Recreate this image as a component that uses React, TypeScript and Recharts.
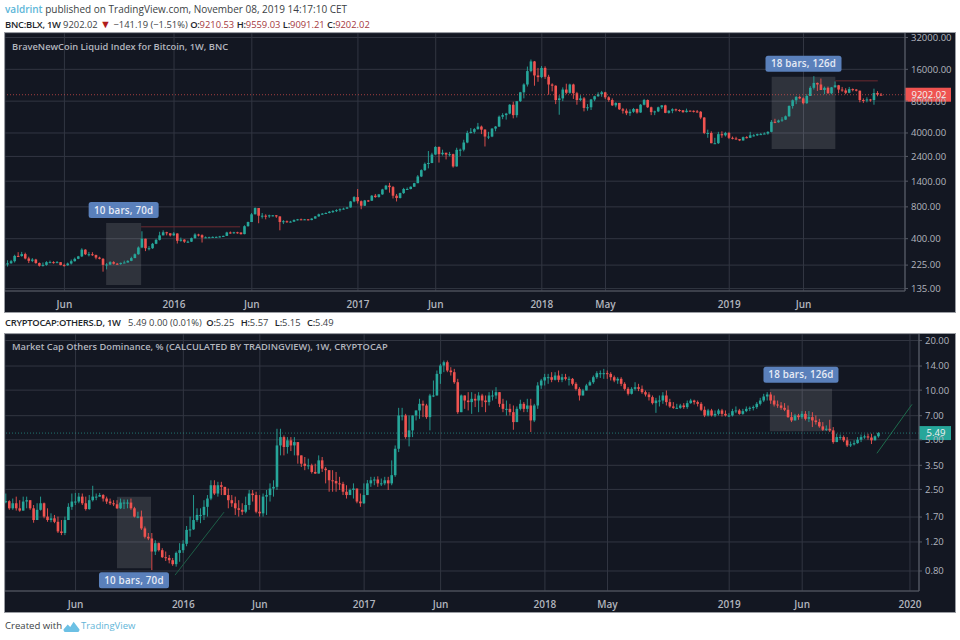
import React from "react";
import { ComposedChart, Bar, XAxis, YAxis, CartesianGrid, ReferenceLine, ReferenceArea } from "recharts";

const firstWeekBtc = -48;
const btcCloses = [
228,234,245,275,274,286,260,247,254,235,
222,226,240,240,237,240,225,224,233,245,
258,272,315,285,285,280,265,258,226,228,
240,232,231,236,238,247,262,285,330,400,
325,325,358,390,430,460,450,430,448,382,
392,375,375,405,438,432,410,412,413,416,
416,420,425,458,455,460,458,442,525,575,
680,780,660,660,655,665,665,650,575,585,
580,580,600,610,605,610,600,620,650,680,
690,700,720,730,745,760,770,790,900,990,
905,820,920,915,1020,990,1050,1170,1270,1230,
1020,970,1080,1180,1180,1240,1340,1550,1780,2040,
2080,2500,2950,2520,2600,2500,2520,1930,2770,2780,
3250,4000,4100,4350,4600,4300,3700,3700,4400,4600,
5700,5900,6100,7400,5900,8000,9700,11500,15400,19000,
14000,13500,16500,13600,11500,11200,8200,8500,10300,9600,
11500,9500,8200,8500,6900,7000,8300,8900,9300,9700,
8700,8200,7300,7700,6700,6500,6150,6350,6750,6250,
7400,8200,7000,6300,6400,7000,7300,6200,6500,6700,
6600,6550,6300,6500,6480,6400,6350,5600,4000,4000,
3200,3200,3900,3800,4000,3600,3550,3500,3400,3650,
3600,3800,3800,3900,3900,3950,4100,5100,5050,5250,
5350,5750,7200,8150,8750,8500,7650,8950,10700,11900,
11500,10200,10700,9500,10800,11300,10300,10100,9600,10400,
10300,10050,8200,8150,8300,8200,9550,9210,9202.02];
const btcHighs = [
240,250,252,282,298,300,295,270,262,258,
238,238,245,248,245,246,240,232,238,254,
265,275,325,318,300,298,283,270,262,235,
245,245,236,238,248,250,270,290,338,470,
400,340,365,400,465,480,465,450,462,450,
410,395,385,410,450,445,440,420,418,420,
420,425,428,465,468,465,465,458,535,580,
700,790,780,700,680,675,670,670,640,600,
595,590,610,615,620,615,612,625,655,690,
700,710,730,745,760,775,785,800,910,1010,
1180,920,930,930,1035,1060,1060,1185,1290,1350,
1260,1060,1090,1210,1220,1250,1350,1600,1810,2100,
2700,2600,3000,2980,2780,2600,2650,2550,2900,2850,
3450,4200,4450,4450,4980,4700,4350,4100,4450,4650,
5850,6150,6200,7500,7900,8000,9800,11800,17000,19800,
19200,16500,17200,17100,14200,11800,11300,9100,10800,11700,
11700,11700,9800,9100,8750,7500,8400,9000,9700,10000,
9800,8900,8500,7800,7700,6900,6800,6700,6900,6800,
7500,8400,8300,7100,6500,7100,7350,7400,6550,6850,
6800,6700,6600,6800,6550,6550,6600,6450,5650,4300,
4150,3600,4100,4150,4100,4100,3700,3680,3500,3700,
3730,4100,3900,3950,4000,4050,4150,5300,5450,5350,
5650,5850,7300,8300,8950,9000,8700,9300,11100,13800,
12000,13100,11000,11000,10900,12300,11400,10900,10600,10900,
10550,10400,10050,8500,8700,8400,10500,9950,9559.03];
const btcLows = [
218,218,232,238,268,270,255,235,240,232,
218,218,222,235,232,235,224,218,222,228,
243,256,268,280,272,275,255,255,195,205,
225,228,226,226,235,240,245,262,282,325,
305,310,320,355,385,430,430,420,425,360,
375,365,365,372,400,420,368,405,405,410,
412,410,415,425,445,445,445,437,440,520,
575,680,560,620,610,630,650,630,480,550,
565,570,575,595,600,600,595,598,618,645,
675,685,695,700,715,720,755,765,785,885,
860,760,815,890,910,975,980,1040,1160,1090,
960,900,960,1060,1160,1170,1240,1340,1530,1750,
1850,2070,2490,2100,2450,2250,2400,1880,1920,2420,
2680,3200,3950,3950,4300,3900,2980,3500,3650,4150,
4550,5400,5350,6000,5500,5600,7850,8500,11000,15000,
11200,12200,13200,13000,9200,9900,7500,5950,8000,9300,
9400,8400,7400,8000,6400,6500,6600,8000,8800,8800,
8400,7900,7200,7000,6600,6100,5900,5800,6200,6100,
6200,7300,6900,5900,5900,6300,6750,6150,6100,6150,
6400,6350,6200,6250,6400,6250,6200,5400,3900,3600,
3200,3150,3150,3600,3700,3500,3480,3450,3350,3380,
3550,3650,3700,3750,3830,3900,3850,4050,4950,5000,
5100,5300,5700,6800,7500,8350,7450,7550,8950,10300,
10000,10400,9300,9400,9300,10800,9500,9800,9300,9500,
9900,9900,7800,7700,7800,7900,7400,8900,9091.21];

const firstWeekOthers = -51;
const othersCloses = [
2.12,1.92,2.06,1.92,1.86,2.11,2.15,1.92,1.63,1.88,
2.06,1.71,1.63,1.67,1.59,1.39,1.36,1.63,1.96,2.11,
2.11,2.26,2.06,1.90,2.15,2.26,2.26,2.31,2.20,2.11,
2.06,2.03,1.92,2.08,2.08,2.08,1.92,1.71,1.71,1.45,
1.29,1.26,1.05,1.18,1.07,0.97,0.96,0.93,0.88,1.03,
1.07,1.17,1.42,1.43,1.63,1.75,1.75,1.96,2.20,2.65,
2.36,2.65,2.59,2.31,2.15,2.06,1.92,1.88,1.83,2.01,
2.36,2.31,1.83,1.79,2.26,2.31,2.53,2.59,4.62,5.19,
4.52,4.96,4.62,4.84,4.02,3.58,3.47,3.50,3.19,3.12,
3.75,3.34,3.27,2.84,2.81,2.72,2.70,2.42,2.31,2.48,
2.53,2.11,2.06,2.31,2.72,2.84,2.87,2.72,2.72,2.84,
2.72,3.05,4.41,7.02,7.02,5.19,5.70,7.02,7.53,8.26,
8.07,6.86,9.28,9.28,12.55,14.10,14.77,13.15,12.85,11.17,
7.35,9.28,8.65,8.46,8.86,8.65,9.28,8.65,8.46,9.28,
9.28,9.72,8.26,7.70,7.70,7.35,6.40,7.70,8.26,7.70,
8.07,6.55,8.07,10.67,11.44,11.98,11.98,11.55,12.26,11.55,
11.98,11.71,11.71,10.92,10.18,9.28,9.95,10.67,11.17,11.98,
12.67,12.67,12.67,12.55,11.98,11.44,11.71,10.92,10.18,9.50,
10.18,10.42,10.18,9.72,9.41,9.07,8.34,8.65,8.65,9.28,
8.46,7.96,7.81,7.81,8.07,7.89,8.34,8.65,8.46,8.26,
7.60,7.02,7.53,7.02,7.18,7.53,7.18,7.02,7.02,7.46,
7.53,7.18,7.46,7.70,7.81,7.89,8.26,8.65,9.15,9.41,
8.65,8.18,8.07,7.81,7.60,6.86,6.55,7.02,6.86,7.18,
6.70,6.86,6.55,6.40,6.03,5.75,5.83,5.70,4.84,5.19,
5.19,4.96,4.62,4.69,4.77,5.00,5.19,5.24,5.16,4.96,
5.25,5.49];
const othersHighs = [
2.36,2.15,2.20,2.26,2.15,2.26,2.26,2.13,2.01,2.06,
2.26,2.08,1.92,1.79,1.75,1.71,1.63,1.71,2.06,2.36,
2.38,2.38,2.36,2.26,2.31,2.63,2.36,2.38,2.34,2.26,
2.20,2.15,2.15,2.20,2.17,2.17,2.20,1.96,1.83,1.86,
1.49,1.36,1.36,1.23,1.19,1.10,1.05,1.00,0.96,1.05,
1.18,1.23,1.50,1.71,2.31,1.92,1.92,2.15,2.31,2.84,
2.84,2.78,2.78,2.59,2.53,2.31,2.26,2.15,2.06,2.26,
2.48,2.48,2.42,2.31,2.36,2.48,2.72,2.84,5.83,5.83,
5.31,5.19,5.19,5.19,4.84,4.02,3.93,3.84,3.58,3.58,
4.02,3.93,3.42,3.27,3.27,3.19,2.98,2.78,2.65,2.53,
2.72,2.53,2.36,2.72,2.85,2.98,2.98,3.00,2.91,2.98,
2.98,3.75,4.62,7.81,7.81,7.18,7.02,7.02,7.53,8.86,
8.65,8.26,9.50,11.44,13.15,14.43,15.12,15.12,13.78,13.46,
11.71,9.41,9.28,9.72,9.72,9.50,9.72,9.50,9.28,9.72,
9.95,10.42,9.72,8.86,8.65,8.26,8.07,7.96,8.75,8.46,
8.86,8.86,8.26,11.17,11.71,12.55,12.55,12.85,12.85,13.15,
12.55,12.55,12.10,11.85,11.17,10.42,10.18,10.92,11.44,12.26,
13.02,13.15,13.46,13.15,12.85,12.26,11.98,11.98,11.17,10.42,
10.42,11.17,10.92,10.67,9.95,9.72,9.28,8.98,9.28,9.72,
9.95,8.86,8.46,8.26,8.26,8.34,8.65,8.86,8.75,8.65,
8.46,7.96,7.70,7.70,7.53,7.70,7.70,7.53,7.25,7.70,
7.96,7.70,7.70,7.96,7.96,8.07,8.46,8.98,9.50,9.72,
9.72,9.28,8.65,8.46,8.34,8.07,7.35,7.18,7.18,7.46,
7.46,7.46,7.35,7.02,6.70,6.40,6.11,6.61,5.97,5.44,
5.38,5.31,5.19,4.88,4.96,5.19,5.38,5.38,5.44,5.44,
5.31,5.57];
const othersLows = [
2.06,1.88,1.88,1.86,1.83,1.88,1.92,1.88,1.57,1.71,
1.86,1.67,1.59,1.58,1.56,1.36,1.32,1.32,1.63,1.88,
2.01,2.06,2.01,1.86,1.88,2.11,2.15,2.26,2.11,2.04,
2.01,1.98,1.90,1.90,1.90,1.92,1.88,1.69,1.67,1.42,
1.26,1.23,0.81,1.00,1.05,0.96,0.92,0.89,0.86,0.85,
0.91,1.03,1.13,1.29,1.42,1.59,1.56,1.63,1.71,2.15,
2.31,2.26,2.31,2.31,1.92,1.96,1.75,1.71,1.75,1.79,
1.88,2.11,1.79,1.71,1.71,1.75,2.11,2.26,2.48,4.02,
4.02,4.12,4.27,4.02,3.58,3.42,3.27,3.31,3.12,3.10,
3.12,3.19,2.72,2.42,2.42,2.42,2.48,2.31,2.20,2.31,
2.20,2.06,1.96,2.04,2.42,2.59,2.65,2.59,2.62,2.65,
2.48,2.65,2.98,4.21,6.55,5.07,4.56,5.19,6.55,6.70,
6.86,6.70,5.70,9.07,9.28,10.92,12.85,12.85,12.26,10.92,
7.18,7.35,7.70,7.53,7.18,7.89,7.35,7.89,7.35,8.07,
8.65,8.86,7.89,7.35,7.02,7.02,5.75,6.40,7.53,7.35,
7.35,5.57,6.40,7.70,10.18,10.67,10.92,11.17,11.44,11.17,
11.17,11.44,10.67,10.67,9.95,8.65,9.28,9.95,10.67,10.92,
11.71,11.85,11.71,11.71,11.44,11.17,10.92,10.57,9.95,9.28,
9.41,9.95,9.86,9.50,9.15,8.65,8.18,7.28,7.96,8.26,
8.07,7.81,7.70,7.70,7.70,7.70,7.70,8.26,8.18,7.96,
7.46,6.86,6.92,6.92,6.86,7.02,6.92,6.92,6.86,6.92,
7.25,7.09,7.09,7.35,7.46,7.53,7.70,8.07,8.46,8.65,
8.26,7.96,7.81,7.60,7.46,6.79,6.40,6.55,6.61,6.70,
6.55,6.40,5.97,6.18,5.91,5.65,5.65,5.57,4.73,4.84,
5.00,4.84,4.52,4.52,4.62,4.73,4.84,5.07,5.00,4.71,
4.96,5.15];

const btcAxisTicks = [135, 225, 400, 800, 1400, 2400, 4000, 8000, 16000, 32000];
const othersAxisTicks = [0.8, 1.2, 1.7, 2.5, 3.5, 5, 7, 10, 14, 20];
const btcWeekTicks = [-31, 0, 22, 52, 74, 104, 122, 157, 178];
const btcWeekLabels = ["Jun", "2016", "Jun", "2017", "Jun", "2018", "May", "2019", "Jun"];
const othersWeekTicks = [-31, 0, 22, 52, 74, 104, 122, 157, 178, 209];
const othersWeekLabels = ["Jun", "2016", "Jun", "2017", "Jun", "2018", "May", "2019", "Jun", "2020"];
const btcLast = 9202.02;
const othersLast = 5.49;

const UP = "#26a69a";
const DOWN = "#ef5350";
const PANEL = "#131722";
const GRID = "#323642";
const AXIS = "#565a65";
const TEXT = "#b2b5be";
const FONT = "'Open Sans', sans-serif";

function buildCandles(first: number, closes: number[], highs: number[], lows: number[]) {
  return closes.map((c, i) => {
    const o = i > 0 ? closes[i - 1] : c;
    const h = Math.max(highs[i], o, c);
    const l = Math.min(lows[i], o, c);
    return { week: first + i, o, c, h, l, range: [l, h] };
  });
}

function Candle(props: any) {
  const { x, y, width, height, payload } = props;
  if (y == null || !payload) return null;
  const { o, c, h, l } = payload;
  const span = Math.log(h) - Math.log(l) || 1;
  const yOf = (v: number) => y + ((Math.log(h) - Math.log(v)) / span) * height;
  const cx = x + width / 2;
  const top = yOf(Math.max(o, c));
  const bot = yOf(Math.min(o, c));
  const col = c >= o ? UP : DOWN;
  return (
    <g>
      <line x1={cx} x2={cx} y1={y} y2={y + height} stroke={col} strokeWidth={0.9} />
      <rect x={cx - 1.3} y={top} width={2.6} height={Math.max(bot - top, 1)} fill={col} />
    </g>
  );
}

function pill(text: string, w: number, place: "top" | "bottom", gap: number) {
  return (props: any) => {
    const vb = props.viewBox;
    if (!vb) return null;
    const h = 16;
    const cx = vb.x + vb.width / 2;
    const py = place === "top" ? vb.y - gap - h : vb.y + vb.height + gap;
    return (
      <g>
        <rect x={cx - w / 2} y={py} width={w} height={h} rx={2.5} fill="#5a80bb" />
        <text x={cx} y={py + 11.5} textAnchor="middle" fontSize={9.8} fontFamily={FONT} fontWeight={600} fill="#e6ebf5" letterSpacing={0.2}>{text}</text>
      </g>
    );
  };
}

function priceTag(text: string, color: string, w: number, yShift: number, h: number) {
  return (props: any) => {
    const vb = props.viewBox;
    if (!vb) return null;
    const right = vb.x + vb.width;
    return (
      <g>
        <rect x={right} y={vb.y + yShift} width={w} height={h} fill={color} />
        <text x={right + w / 2 + 1} y={vb.y + yShift + h / 2 + 3.4} textAnchor="middle" fontSize={9.5} fontFamily={FONT} fill="#f3f3f3">{text}</text>
      </g>
    );
  };
}

function Panel(props: any) {
  const { data, top, height, xDomain, yDomain, yTicks, xTicks, xLabels, yWidth, children } = props;
  const fmt = (v: number) => v.toFixed(2);
  return (
    <div style={{ position: "absolute", left: 5, top, width: 950, height, background: PANEL, outline: "1px solid #9a9da3" }}>
      <ComposedChart width={950} height={height} data={data} margin={{ top: 0, right: 0, bottom: 0, left: 0 }}>
        <CartesianGrid stroke={GRID} strokeWidth={1} />
        <XAxis
          dataKey="week" type="number" domain={xDomain} allowDataOverflow ticks={xTicks} interval={0} height={21}
          tickFormatter={(v: number) => xLabels[xTicks.indexOf(v)]}
          tick={{ fill: TEXT, fontSize: 10, fontFamily: FONT, fontWeight: 600 }} tickLine={false} tickMargin={4}
          axisLine={{ stroke: AXIS, strokeWidth: 1.2 }}
        />
        <YAxis
          orientation="right" scale="log" type="number" domain={yDomain} allowDataOverflow ticks={yTicks} interval={0} width={yWidth}
          tickFormatter={fmt} tick={{ fill: TEXT, fontSize: 9.5, fontFamily: FONT, textAnchor: "start" }}
          tickLine={{ stroke: AXIS }} tickSize={3} tickMargin={3} axisLine={{ stroke: AXIS, strokeWidth: 1.2 }}
        />
        <Bar dataKey="range" barSize={3} shape={<Candle />} isAnimationActive={false} />
        {children}
      </ComposedChart>
    </div>
  );
}

const Title = ({ top, children }: any) => (
  <div style={{ position: "absolute", left: 12, top, font: `600 9.3px ${FONT}`, color: TEXT, whiteSpace: "nowrap" }}>{children}</div>
);

const Line = ({ top, children, size = 10 }: any) => (
  <div style={{ position: "absolute", left: 5, top, font: `${size}px ${FONT}`, color: "#3c3f45", whiteSpace: "nowrap" }}>{children}</div>
);

const R = ({ children }: any) => <span style={{ color: "#a5383e" }}>{children}</span>;
const B = ({ children }: any) => <span style={{ color: "#22252a", fontWeight: 600, letterSpacing: -0.25 }}>{children}</span>;
const Gap = ({ w }: any) => <span style={{ display: "inline-block", width: w }} />;

export default function App() {
  const btc = buildCandles(firstWeekBtc, btcCloses, btcHighs, btcLows);
  const others = buildCandles(firstWeekOthers, othersCloses, othersHighs, othersLows);
  return (
    <div style={{ position: "absolute", left: 0, top: 0, width: 960, height: 640, background: "#fff", overflow: "hidden" }}>
      <Line top={2}><b style={{ color: "#5cb6d8", fontWeight: 600 }}>valdrint</b> published on TradingView.com, November 08, 2019 14:17:10 CET</Line>
      <Line top={15.5} size={9.4}>
        <B>BNC:BLX, 1W</B> 9202.02 <span style={{ color: "#b01c1c", fontSize: 11 }}>▼</span> −141.19 (−1.51%) <B>O:</B><R>9210.53</R> <B>H:</B><R>9559.03</R> <B>L:</B><R>9091.21</R> <B>C:</B><R>9202.02</R>
      </Line>

      <Panel data={btc} top={33} height={279} xDomain={[-47.8, 206.7]} yDomain={[128, 35300]} yTicks={btcAxisTicks} xTicks={btcWeekTicks} xLabels={btcWeekLabels} yWidth={50}>
        <ReferenceArea x1={-19.2} x2={-9.3} y1={146} y2={562} fill="#fff" fillOpacity={0.12} stroke="none" label={pill("10 bars, 70d", 70, "top", 5)} />
        <ReferenceArea x1={169} x2={187} y1={2820} y2={13600} fill="#fff" fillOpacity={0.12} stroke="none" label={pill("18 bars, 126d", 76, "top", 5)} />
        <ReferenceLine segment={[{ x: -9.3, y: 518 }, { x: 18.7, y: 518 }]} stroke="#6d2a30" strokeWidth={1} />
        <ReferenceLine segment={[{ x: 187, y: 12450 }, { x: 199, y: 12450 }]} stroke="#6d2a30" strokeWidth={1} />
        <ReferenceLine y={btcLast} stroke={DOWN} strokeOpacity={0.65} strokeDasharray="1 2" label={priceTag("9202.02", "#ef5350", 46, -7, 14)} />
      </Panel>
      <Title top={39.5}>BraveNewCoin Liquid Index for Bitcoin, 1W, BNC</Title>

      <Line top={316} size={9.4}>
        <B>CRYPTOCAP:OTHERS.D, 1W</B><Gap w={5} /> 5.49 0.00 (0.01%)<Gap w={2} /> <B>O:</B>5.25<Gap w={4} /> <B>H:</B>5.57<Gap w={4} /> <B>L:</B>5.15<Gap w={4} /> <B>C:</B>5.49
      </Line>

      <Panel data={others} top={334} height={278} xDomain={[-51.3, 211.6]} yDomain={[0.605, 21.9]} yTicks={othersAxisTicks} xTicks={othersWeekTicks} xLabels={othersWeekLabels} yWidth={36}>
        <ReferenceArea x1={-19.1} x2={-9.3} y1={0.83} y2={2.26} fill="#fff" fillOpacity={0.12} stroke="none" label={pill("10 bars, 70d", 70, "bottom", 4)} />
        <ReferenceArea x1={168.7} x2={186.6} y1={5.64} y2={10.18} fill="#fff" fillOpacity={0.12} stroke="none" label={pill("18 bars, 126d", 75, "top", 6)} />
        <ReferenceLine segment={[{ x: -2.4, y: 0.755 }, { x: 11.7, y: 1.82 }]} stroke="#1d5e47" strokeWidth={1} />
        <ReferenceLine segment={[{ x: 199.5, y: 4.14 }, { x: 209.6, y: 8.2 }]} stroke="#1d6b4c" strokeWidth={1} />
        <ReferenceLine y={othersLast} stroke={UP} strokeOpacity={0.65} strokeDasharray="1 2" label={priceTag("5.49", "#26a69a", 32, -7, 14)} />
      </Panel>
      <Title top={339.5}>Market Cap Others Dominance, % (CALCULATED BY TRADINGVIEW), 1W, CRYPTOCAP</Title>

      <div style={{ position: "absolute", left: 5, top: 619, font: `9.6px ${FONT}`, color: "#3c3f45", whiteSpace: "nowrap" }}>Created with</div>
      <svg style={{ position: "absolute", left: 63, top: 621 }} width={17} height={11} viewBox="0 0 19 13">
        <path d="M0 10 L5 4 L8 7 L12 1 L19 10 Q19 13 16 13 L3 13 Q0 13 0 10 Z" fill="#6cc0e4" />
      </svg>
      <div style={{ position: "absolute", left: 81, top: 619, font: `9.5px ${FONT}`, color: "#62b5d8", whiteSpace: "nowrap" }}>TradingView</div>
    </div>
  );
}
